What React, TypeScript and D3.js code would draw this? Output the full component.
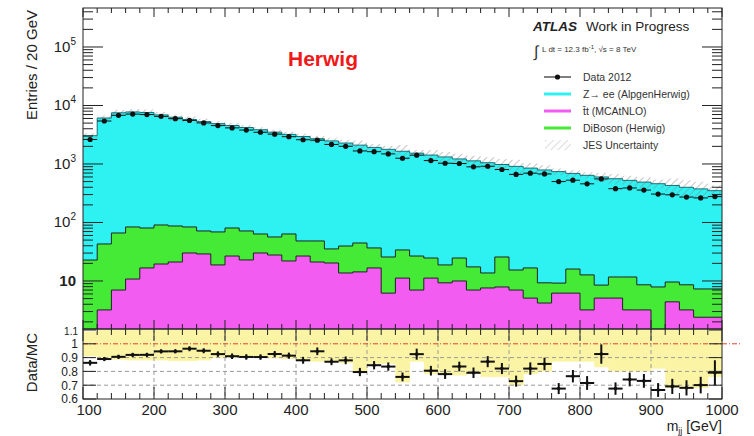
import React from 'react';
import * as d3 from 'd3';

// bins of 20 GeV from 100 to 1000 GeV (low edges)
const binLowEdges = [100, 120, 140, 160, 180, 200, 220, 240, 260, 280, 300, 320, 340, 360, 380, 400, 420, 440, 460, 480, 500, 520, 540, 560, 580, 600, 620, 640, 660, 680, 700, 720, 740, 760, 780, 800, 820, 840, 860, 880, 900, 920, 940, 960, 980];
const BIN = 20;

// event counts
const dataCounts = [2623, 5429, 6788, 7130, 6992, 6521, 5954, 5549, 5035, 4533, 4141, 3801, 3484, 3238, 2928, 2596, 2552, 2158, 2006, 1670, 1622, 1486, 1254, 1415, 1143, 1030, 1019, 893, 914, 804, 664, 697, 675, 500, 528, 458, 555, 378, 389, 358, 306, 297, 272, 263, 277];
const zeeCounts = [3020, 6060, 7430, 7670, 7520, 6810, 6210, 5670, 5230, 4830, 4470, 4130, 3790, 3440, 3140, 2900, 2650, 2445, 2240, 2055, 1883, 1754, 1616, 1503, 1395, 1301, 1195, 1113, 1036, 954, 895, 833, 781, 731, 674, 627, 591, 548, 513, 481, 452, 420, 391, 368, 343];
const ttbarCounts = [0.8, 3.2, 7.0, 10.8, 16.7, 19.5, 21.1, 30.1, 29.0, 18.8, 26.7, 22.9, 30.1, 27.8, 22.0, 26.7, 21.1, 20.3, 13.7, 14.3, 16.7, 6.2, 11.2, 7.0, 11.2, 9.3, 10.0, 7.0, 7.6, 7.9, 7.0, 5.1, 4.2, 6.2, 6.2, 3.2, 5.1, 5.1, 3.2, 3.2, 0.6, 4.4, 3.2, 2.4, 2.4];
const dibosonCounts = [22, 39.7, 59.1, 73, 63.8, 71.1, 66, 53.7, 42.6, 50.1, 53.8, 48.7, 33.5, 28.7, 41.6, 21.6, 27.2, 15, 25.9, 30.3, 20, 19.5, 22.7, 19.7, 13.5, 9.5, 14.7, 10.4, 6.1, 17.8, 8.4, 11.6, 5.1, 3.0, 9.8, 9.5, 3.4, 6.6, 8.5, 5.4, 7.3, 5.2, 5.4, 4.9, 4.9];

// ratio panel: error on data/MC and lower edge of the JES band
const ratioErr = [0.02, 0.015, 0.015, 0.015, 0.015, 0.015, 0.015, 0.018, 0.018, 0.02, 0.02, 0.02, 0.02, 0.022, 0.022, 0.025, 0.028, 0.025, 0.028, 0.03, 0.03, 0.03, 0.032, 0.04, 0.035, 0.035, 0.035, 0.038, 0.04, 0.04, 0.04, 0.045, 0.045, 0.04, 0.045, 0.05, 0.07, 0.045, 0.05, 0.05, 0.05, 0.055, 0.055, 0.06, 0.09];
const jesLow = [0.91, 0.89, 0.885, 0.88, 0.88, 0.88, 0.875, 0.875, 0.88, 0.9, 0.9, 0.9, 0.9, 0.895, 0.89, 0.88, 0.87, 0.87, 0.86, 0.8, 0.855, 0.855, 0.72, 0.87, 0.78, 0.78, 0.77, 0.78, 0.76, 0.76, 0.7, 0.78, 0.8, 0.87, 0.87, 0.87, 0.83, 0.8, 0.8, 0.8, 0.82, 0.68, 0.68, 0.68, 0.76];

const decadeLabels = [5, 4, 3, 2];
const ratioTicks = [0.6, 0.7, 0.8, 0.9, 1, 1.1];
const ratioTickLabels = ['0.6', '0.7', '0.8', '0.9', '1', '1.1'];
const legendItems = [
  { label: 'Data 2012', color: '#000', kind: 'data' },
  { label: 'Z\u2192 ee (AlpgenHerwig)', color: '#2ef2f2', kind: 'line' },
  { label: 't\u0304t (MCAtNLO)', color: '#f25cf0', kind: 'line' },
  { label: 'DiBoson (Herwig)', color: '#44ea36', kind: 'line' },
  { label: 'JES Uncertainty', color: '#bbb', kind: 'hatch' },
];

const FONT = '"Liberation Sans", Arial, Helvetica, sans-serif';
const left = 83, right = 722, mainTop = 8, mainBottom = 329, ratioBottom = 399;

const x = d3.scaleLinear().domain([100, 1000]).range([left, right]);
const yMain = d3.scaleLog().domain([1.51, 4.64e5]).range([mainBottom, mainTop]);
const yRatio = d3.scaleLinear().domain([0.6, 1.1]).range([ratioBottom, mainBottom + 1]);

const green = ttbarCounts.map((t, i) => t + dibosonCounts[i]);
const mcTotal = zeeCounts.map((z, i) => z + green[i]);
const ratio = dataCounts.map((d, i) => d / mcTotal[i]);

const stepPoints = (vals: number[], y: (v: number) => number) => {
  const pts: [number, number][] = [];
  vals.forEach((v, i) => {
    const yy = Math.min(y(v), 2000);
    pts.push([x(binLowEdges[i]), yy], [x(binLowEdges[i] + BIN), yy]);
  });
  return pts;
};
const stepArea = (vals: number[], y: (v: number) => number, base: number) =>
  d3.area<[number, number]>().x(d => d[0]).y0(base).y1(d => d[1])(stepPoints(vals, y)) || '';
const stepLine = (vals: number[], y: (v: number) => number) =>
  d3.line<[number, number]>().x(d => d[0]).y(d => d[1])(stepPoints(vals, y)) || '';

const App = () => {
  const majorX = x.ticks(9);
  const minorX = d3.range(100, 1001, 20);
  const logTicks = yMain.ticks();
  const isMajor = (v: number) => Math.abs(Math.log10(v) - Math.round(Math.log10(v))) < 1e-6;

  // JES band in the main panel
  const jesPts: [number, number, number][] = [];
  mcTotal.forEach((m, i) => {
    const lo = yMain(m * jesLow[i]);
    const hi = yMain(m * (2 - jesLow[i]));
    jesPts.push([x(binLowEdges[i]), lo, hi], [x(binLowEdges[i] + BIN), lo, hi]);
  });
  const jesArea = d3.area<[number, number, number]>().x(d => d[0]).y0(d => d[1]).y1(d => d[2])(jesPts) || '';

  return (
    <svg width={754} height={436} style={{ position: 'absolute', left: 0, top: 0, background: '#fff' }} fontFamily={FONT}>
      <defs>
        <clipPath id="mainClip"><rect x={left} y={mainTop} width={right - left} height={mainBottom - mainTop} /></clipPath>
        <clipPath id="ratioClip"><rect x={left} y={mainBottom} width={right - left} height={ratioBottom - mainBottom} /></clipPath>
        <pattern id="hatch" patternUnits="userSpaceOnUse" width={5} height={5} patternTransform="rotate(45)">
          <line x1={0} y1={0} x2={0} y2={5} stroke="#8a8a8a" strokeWidth={1} />
        </pattern>
      </defs>

      {/* main panel stack */}
      <g clipPath="url(#mainClip)">
        <path d={stepArea(mcTotal, yMain, mainBottom)} fill="#2ef2f2" />
        <path d={jesArea} fill="url(#hatch)" />
        <path d={stepLine(mcTotal, yMain)} fill="none" stroke="#1a6f78" strokeWidth={1} />
        <path d={stepArea(green, yMain, mainBottom)} fill="#44ea36" />
        <path d={stepLine(green, yMain)} fill="none" stroke="#222" strokeWidth={1} />
        <path d={stepArea(ttbarCounts, yMain, mainBottom)} fill="#f25cf0" />
        <path d={stepLine(ttbarCounts, yMain)} fill="none" stroke="#222" strokeWidth={1} />
        {dataCounts.map((d, i) => {
          const cx = x(binLowEdges[i] + BIN / 2);
          const err = Math.sqrt(d);
          return (
            <g key={i}>
              <line x1={x(binLowEdges[i])} x2={x(binLowEdges[i] + BIN)} y1={yMain(d)} y2={yMain(d)} stroke="#111" strokeWidth={1} />
              <line x1={cx} x2={cx} y1={yMain(d - err)} y2={yMain(d + err)} stroke="#111" strokeWidth={1} />
              <circle cx={cx} cy={yMain(d)} r={2.6} fill="#111" />
            </g>
          );
        })}
      </g>

      {/* ratio panel */}
      <g clipPath="url(#ratioClip)">
        {jesLow.map((lo, i) => (
          <rect key={i} x={x(binLowEdges[i])} width={x(binLowEdges[i] + BIN) - x(binLowEdges[i]) + 0.5}
            y={yRatio(Math.min(2 - lo, 1.1))} height={yRatio(lo) - yRatio(Math.min(2 - lo, 1.1))} fill="#fbf4a4" />
        ))}
        {[0.9, 0.8, 0.7].map(v => (
          <line key={v} x1={left} x2={right} y1={yRatio(v)} y2={yRatio(v)} stroke="#9a9a9a" strokeWidth={1} strokeDasharray="4,3" />
        ))}
        {majorX.filter(v => v > 100 && v < 1000).map(v => (
          <line key={v} x1={x(v)} x2={x(v)} y1={mainBottom} y2={ratioBottom} stroke="#9a9a9a" strokeWidth={1} strokeDasharray="4,3" />
        ))}
        <line x1={left} x2={right} y1={yRatio(1)} y2={yRatio(1)} stroke="#e8402a" strokeWidth={1} strokeDasharray="5,2,1,2" />
        {ratio.map((r, i) => {
          const cx = x(binLowEdges[i] + BIN / 2);
          return (
            <g key={i}>
              <line x1={x(binLowEdges[i])} x2={x(binLowEdges[i] + BIN)} y1={yRatio(r)} y2={yRatio(r)} stroke="#111" strokeWidth={2} />
              <line x1={cx} x2={cx} y1={yRatio(r - ratioErr[i])} y2={yRatio(r + ratioErr[i])} stroke="#111" strokeWidth={2} />
              <circle cx={cx} cy={yRatio(r)} r={1.8} fill="#111" />
            </g>
          );
        })}
      </g>
      <line x1={right} x2={740} y1={yRatio(1)} y2={yRatio(1)} stroke="#e8402a" strokeWidth={1} strokeDasharray="5,2,1,2" />

      {/* frames */}
      <rect x={left} y={mainTop} width={right - left} height={mainBottom - mainTop} fill="none" stroke="#222" strokeWidth={1} />
      <rect x={left} y={mainBottom} width={right - left} height={ratioBottom - mainBottom} fill="none" stroke="#222" strokeWidth={1} />

      {/* x ticks */}
      {minorX.map(v => {
        const big = v % 100 === 0;
        const xx = x(v);
        return (
          <g key={v} stroke="#222" strokeWidth={1}>
            <line x1={xx} x2={xx} y1={mainTop} y2={mainTop + (big ? 9 : 5)} />
            <line x1={xx} x2={xx} y1={mainBottom} y2={mainBottom - (big ? 9 : 5)} />
            <line x1={xx} x2={xx} y1={mainBottom} y2={mainBottom + (big ? 12 : 6)} />
            <line x1={xx} x2={xx} y1={ratioBottom} y2={ratioBottom - (big ? 12 : 6)} />
          </g>
        );
      })}
      {majorX.map(v => (
        <text key={v} x={x(v) + (v === 100 ? 6 : 0)} y={415} textAnchor="middle" fontSize={15} fill="#222">{v}</text>
      ))}
      <text x={right} y={431} textAnchor="end" fontSize={14} fill="#222">
        m<tspan dy={3} fontSize={9}>jj</tspan><tspan dy={-3}> [GeV]</tspan>
      </text>

      {/* main y ticks */}
      {logTicks.map((v, i) => {
        const yy = yMain(v);
        const len = isMajor(v) ? 20 : 10;
        return (
          <g key={i} stroke="#222" strokeWidth={1}>
            <line x1={left} x2={left + len} y1={yy} y2={yy} />
            <line x1={right} x2={right - len} y1={yy} y2={yy} />
          </g>
        );
      })}
      {decadeLabels.map(p => (
        <text key={p} x={76} y={yMain(Math.pow(10, p)) + 5} textAnchor="end" fontSize={15} fill="#222">
          10<tspan dy={-7} fontSize={10}>{p}</tspan>
        </text>
      ))}
      <text x={76} y={yMain(10) + 5} textAnchor="end" fontSize={15} fill="#222" fontWeight="bold">10</text>

      {/* ratio y ticks */}
      {ratioTicks.map((v, i) => (
        <g key={v}>
          <line x1={left} x2={left + 13} y1={yRatio(v)} y2={yRatio(v)} stroke="#222" />
          <line x1={right} x2={right - 13} y1={yRatio(v)} y2={yRatio(v)} stroke="#222" />
          <text x={78} y={yRatio(v) + (i === 0 ? 4 : 4.5)} textAnchor="end" fontSize={i === 5 ? 10 : 12} fill="#222">{ratioTickLabels[i]}</text>
        </g>
      ))}

      {/* axis titles */}
      <text transform="translate(37,10) rotate(-90)" textAnchor="end" fontSize={15} fill="#222">Entries / 20 GeV</text>
      <text transform="translate(37,333) rotate(-90)" textAnchor="end" fontSize={15} fill="#222">Data/MC</text>

      {/* labels */}
      <text x={288} y={66} fontSize={21} fontWeight="bold" fill="#f01818">Herwig</text>
      <text x={533} y={31} fontSize={13.5} fontWeight="bold" fontStyle="italic" fill="#222">ATLAS</text>
      <text x={586} y={31} fontSize={13.5} fill="#222">Work in Progress</text>
      <text x={534} y={57} fontSize={16} fill="#333">{'\u222B'}</text>
      <text x={542} y={52} fontSize={8} fill="#333">L dt = 12.3 fb<tspan dy={-3} fontSize={6}>-1</tspan><tspan dy={3}>,  {'\u221A'}s = 8 TeV</tspan></text>

      {/* legend */}
      {legendItems.map((it, i) => {
        const yy = 77 + i * 17;
        return (
          <g key={it.label}>
            {it.kind === 'hatch' ? (
              <rect x={545} y={yy - 5} width={26} height={10} fill="url(#hatch)" opacity={0.6} />
            ) : (
              <line x1={544} x2={571} y1={yy} y2={yy} stroke={it.color} strokeWidth={it.kind === 'data' ? 1 : 3} />
            )}
            {it.kind === 'data' && <circle cx={557.5} cy={yy} r={2.6} fill="#111" />}
            <text x={583} y={yy + 4} fontSize={10.5} fill="#333">{it.label}</text>
          </g>
        );
      })}
    </svg>
  );
};

export default App;
